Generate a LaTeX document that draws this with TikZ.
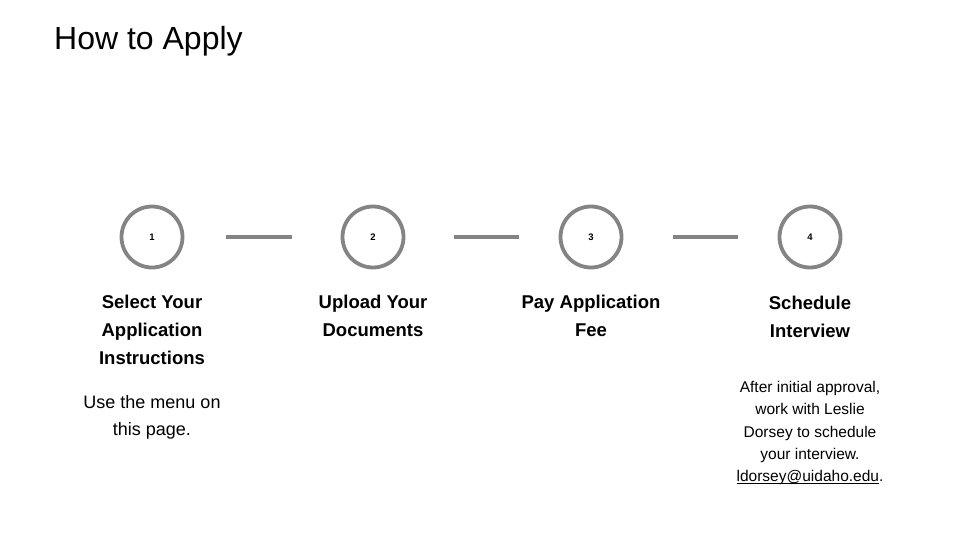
\documentclass[tikz,border=0pt]{standalone}
\usepackage{fontspec}
\setmainfont{Liberation Sans}
\newcommand\myul[1]{\setbox0\hbox{#1}\rlap{\rule[-2.2pt]{\wd0}{0.8pt}}\box0}
\begin{document}
\begin{tikzpicture}[x=1pt,y=-1pt,
  stepcircle/.style={circle,draw=ringgray,line width=3.8pt,minimum size=61pt,inner sep=0pt,
    font=\bfseries\fontsize{9.5}{10}\selectfont},
  steptitle/.style={align=center,font=\bfseries\fontsize{18.5}{28}\selectfont,text=black},
  stepdesc/.style={align=center,font=\fontsize{18}{27}\selectfont,text=black},
  smalldesc/.style={align=center,font=\fontsize{15.5}{22.3}\selectfont,text=black},
  link/.style={draw=ringgray,line width=3.8pt}
]
\definecolor{ringgray}{HTML}{848484}
\useasboundingbox (0,0) rectangle (960,540);
\node[anchor=base west,font=\fontsize{32}{40}\selectfont,inner sep=0pt] (title) at (54,50) {How to Apply};

\node[stepcircle] (c1) at (152,237) {1};
\node[stepcircle] (c2) at (373,237) {2};
\node[stepcircle] (c3) at (591,237) {3};
\node[stepcircle] (c4) at (810,237) {4};

\draw[link,shorten <=42pt,shorten >=49pt] (c1.east) -- (c2.west);
\draw[link,shorten <=49pt,shorten >=40pt] (c2.east) -- (c3.west);
\draw[link,shorten <=50pt,shorten >=40pt] (c3.east) -- (c4.west);

\node[steptitle] (t1) at (152,330) {Select Your\\Application\\Instructions};
\node[steptitle] (t2) at (373,316) {Upload Your\\Documents};
\node[steptitle] (t3) at (591,316) {Pay Application\\Fee};
\node[steptitle] (t4) at (810,317) {Schedule\\Interview};

\node[stepdesc] (d1) at (152,417) {Use the menu on\\this page.};
\node[smalldesc] (d4) at (810,433) {After initial approval,\\work with Leslie\\Dorsey to schedule\\your interview.\\\myul{ldorsey@uidaho.edu}.};
\end{tikzpicture}
\end{document}
